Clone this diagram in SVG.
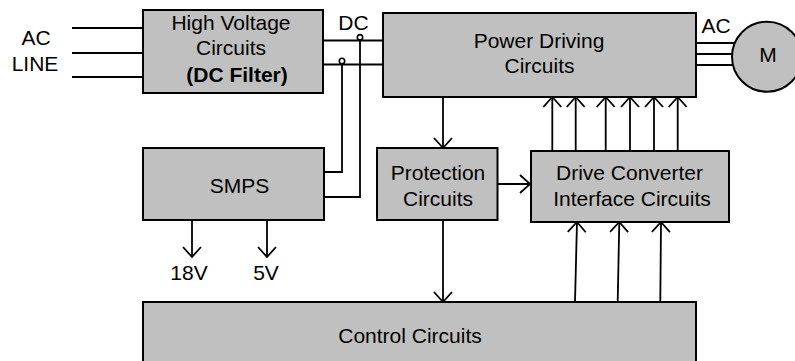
<svg xmlns="http://www.w3.org/2000/svg" width="795" height="361" viewBox="0 0 795 361">
<style>
.box{fill:#c0c0c0;stroke:#000;stroke-width:2}
.ln{fill:none;stroke:#000;stroke-width:1.8}
.arr{marker-end:url(#ah)}
text{font-family:"Liberation Sans",Arial,sans-serif;font-size:21px;fill:#000;text-anchor:middle}
.b{font-weight:bold}
.dot{fill:#fff;stroke:#000;stroke-width:1.6}
</style>
<defs>
<marker id="ah" markerUnits="userSpaceOnUse" markerWidth="24" markerHeight="24" viewBox="-12 -12 24 24" refX="0" refY="0" orient="auto">
<path d="M-10,-9 L0,0 L-10,9" fill="none" stroke="#000" stroke-width="1.8"/>
</marker>
</defs>
<rect width="795" height="361" fill="#fff"/>
<g id="connectors">
<line class="ln" x1="72" y1="28" x2="143" y2="28"/>
<line class="ln" x1="72" y1="53" x2="143" y2="53"/>
<line class="ln" x1="72" y1="77" x2="143" y2="77"/>
<line class="ln" x1="323" y1="40.5" x2="383" y2="40.5"/>
<line class="ln" x1="323" y1="64.5" x2="383" y2="64.5"/>
<polyline class="ln" points="324,172 342,172 342,61"/>
<polyline class="ln" points="324,197 360,197 360,37.3"/>
<circle class="dot" cx="342" cy="61" r="2.7"/>
<circle class="dot" cx="360" cy="37.3" r="2.7"/>
<line class="ln" x1="696" y1="43" x2="745" y2="43"/>
<line class="ln" x1="696" y1="54" x2="745" y2="54"/>
<line class="ln" x1="696" y1="65" x2="745" y2="65"/>
<line class="ln arr" x1="443" y1="97" x2="443" y2="148"/>
<line class="ln arr" x1="443" y1="220" x2="443" y2="302"/>
<line class="ln arr" x1="497" y1="184" x2="530" y2="184"/>
<line class="ln arr" x1="192" y1="220" x2="192" y2="257"/>
<line class="ln arr" x1="267" y1="220" x2="267" y2="257"/>
<line class="ln arr" x1="552.3" y1="151" x2="552.3" y2="97"/>
<line class="ln arr" x1="575.7" y1="151" x2="575.7" y2="97"/>
<line class="ln arr" x1="605.7" y1="151" x2="605.7" y2="97"/>
<line class="ln arr" x1="630" y1="151" x2="630" y2="97"/>
<line class="ln arr" x1="654" y1="151" x2="654" y2="97"/>
<line class="ln arr" x1="677.7" y1="151" x2="677.7" y2="97"/>
<line class="ln arr" x1="575" y1="302" x2="577" y2="222"/>
<line class="ln arr" x1="617.7" y1="302" x2="619.3" y2="222"/>
<line class="ln arr" x1="660.3" y1="302" x2="661" y2="222"/>
</g>
<g id="labels">
<text x="36" y="45">AC</text>
<text x="35" y="70.5">LINE</text>
<text x="353.5" y="30">DC</text>
<text x="716" y="33">AC</text>
<text x="189" y="280">18V</text>
<text x="266" y="280">5V</text>
</g>
<g id="hv">
<rect class="box" x="143" y="10" width="180" height="83"/>
<text x="231" y="30">High Voltage</text>
<text x="231" y="55">Circuits</text>
<text class="b" x="237" y="81.5">(DC Filter)</text>
</g>
<g id="power">
<rect class="box" x="383" y="13" width="313" height="84"/>
<text x="539" y="47.5">Power Driving</text>
<text x="539.5" y="73.3">Circuits</text>
</g>
<g id="motor">
<circle class="box" cx="767" cy="56.7" r="35"/>
<text x="768" y="62">M</text>
</g>
<g id="smps">
<rect class="box" x="143" y="148" width="181" height="72"/>
<text x="239.5" y="193">SMPS</text>
</g>
<g id="protection">
<rect class="box" x="377" y="148" width="120.5" height="72"/>
<text x="438" y="180">Protection</text>
<text x="438" y="206">Circuits</text>
</g>
<g id="drive">
<rect class="box" x="531" y="151" width="198" height="71"/>
<text x="629.5" y="180">Drive Converter</text>
<text x="632" y="206">Interface Circuits</text>
</g>
<g id="control">
<rect class="box" x="143" y="302" width="553" height="70"/>
<text x="410" y="343">Control Circuits</text>
</g>
</svg>
